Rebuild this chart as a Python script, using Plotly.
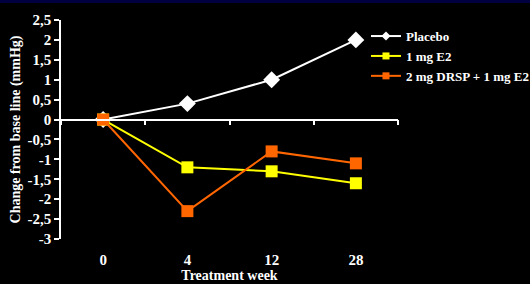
import plotly.graph_objects as go

weeks = ["0", "4", "12", "28"]
placebo = [0, 0.4, 1.0, 2.0]
e2 = [0, -1.2, -1.3, -1.6]
drsp = [0, -2.3, -0.8, -1.1]
ytick_vals = [2.5, 2, 1.5, 1, 0.5, 0, -0.5, -1, -1.5, -2, -2.5, -3]
ytick_text = ["2,5", "2", "1,5", "1", "0,5", "0", "-0,5", "-1", "-1,5", "-2", "-2,5", "-3"]

FONT = "Liberation Serif"
W, H = 530, 284
ml, mr, mt, mb = 61, 132, 20, 45
ymin, ymax = -3, 2.5

series = [
    ("Placebo", placebo, "white", "diamond", 13),
    ("1 mg E2", e2, "#FFFF00", "square", 12),
    ("2 mg DRSP + 1 mg E2", drsp, "#FF6600", "square", 12),
]

fig = go.Figure()
for name, vals, col, sym, sz in series:
    fig.add_trace(go.Scatter(x=weeks, y=vals, name=name, mode="lines+markers",
                             line=dict(color=col, width=2), showlegend=False,
                             marker=dict(symbol=sym, size=sz, color=col)))
for name, vals, col, sym, sz in series:
    fig.add_trace(go.Scatter(x=[None], y=[None], name=name, mode="lines+markers",
                             line=dict(color=col, width=2),
                             marker=dict(symbol=sym, size=7, color=col)))
# helper trace so the zero-line axis renders
fig.add_trace(go.Scatter(x=weeks, y=[0, 0, 0, 0], xaxis="x2", mode="lines",
                         line=dict(width=0), showlegend=False, hoverinfo="skip"))

zero_pos = (0 - ymin) / (ymax - ymin)

fig.update_layout(
    width=W, height=H,
    margin=dict(l=ml, r=mr, t=mt, b=mb, autoexpand=False),
    paper_bgcolor="black", plot_bgcolor="black",
    font=dict(family=FONT, color="white", size=13),
    showlegend=True,
    legend=dict(x=0.905, y=0.995, xanchor="left", yanchor="top",
                bgcolor="rgba(0,0,0,0)", tracegroupgap=0, itemwidth=30,
                font=dict(family=FONT, size=13, color="white", weight="bold")),
    xaxis=dict(type="category", categoryorder="array", categoryarray=weeks,
               range=[-0.5, 3.5], showgrid=False, zeroline=False, showline=False,
               automargin=False,
               ticks="outside", ticklen=7, tickcolor="rgba(0,0,0,0)",
               tickfont=dict(family=FONT, size=15, color="white", weight="bold"),
               title=dict(text="Treatment week", standoff=0,
                          font=dict(family=FONT, size=14, color="white", weight="bold"))),
    xaxis2=dict(type="category", categoryorder="array", categoryarray=weeks,
                range=[-0.5, 3.5], overlaying="x", anchor="free", position=zero_pos,
                automargin=False,
                showgrid=False, zeroline=False, showline=True, linecolor="white", linewidth=1.5,
                ticks="outside", tickson="boundaries", ticklen=5, tickcolor="white", tickwidth=1.5,
                showticklabels=False),
    yaxis=dict(range=[ymin, ymax], tickvals=ytick_vals, ticktext=ytick_text,
               automargin=False,
               showgrid=False, zeroline=False, showline=True, linecolor="white", linewidth=1.5,
               ticks="outside", ticklen=5, tickcolor="white", tickwidth=1.5,
               tickfont=dict(family=FONT, size=15, color="white", weight="bold"),
               title=dict(text="Change from base line (mmHg)", standoff=4,
                          font=dict(family=FONT, size=14, color="white", weight="bold"))),
    shapes=[dict(type="rect", xref="paper", yref="paper",
                 x0=-ml / (W - ml - mr), x1=(W - ml) / (W - ml - mr),
                 y0=1 + (mt - 3) / (H - mt - mb), y1=1 + mt / (H - mt - mb),
                 fillcolor="#000040", line=dict(width=0), layer="above")],
)

fig.write_html("out.html", config={"displayModeBar": False},
               post_script="document.body.style.margin='0';document.body.style.background='black';document.body.style.overflow='hidden';")
